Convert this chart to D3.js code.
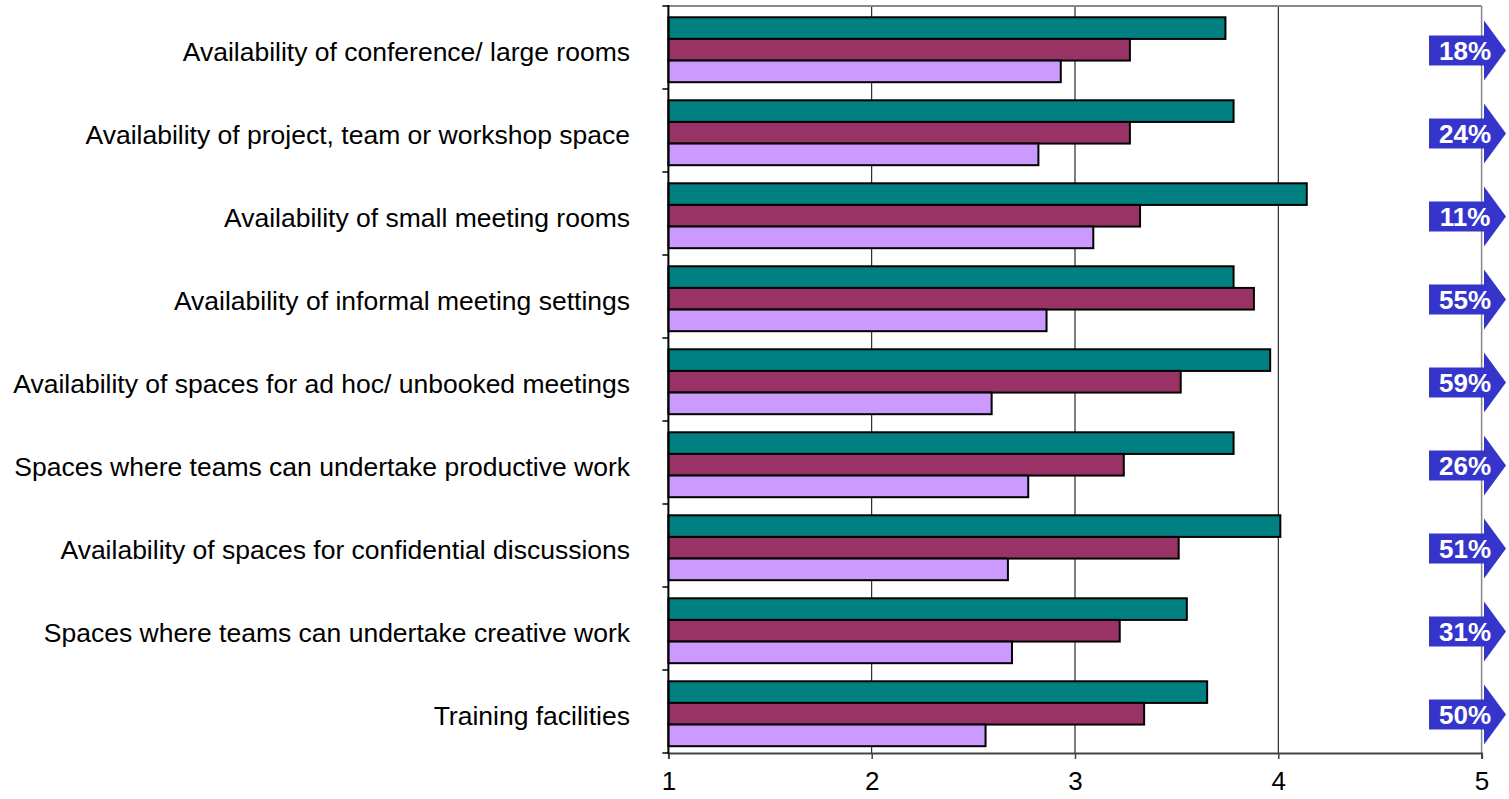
<!DOCTYPE html>
<html>
<head>
<meta charset="utf-8">
<script src="https://cdn.jsdelivr.net/npm/d3@7/dist/d3.min.js"></script>
<style>
  html, body { margin: 0; padding: 0; background: #fff; }
  svg { display: block; }
  text { font-family: Arial, "Liberation Sans", sans-serif; }
</style>
</head>
<body>
<svg id="chart" width="1509" height="799"></svg>
<script>
// Workplace meeting-space ratings (1-5 scale), three groups per item
const categories = [
  "Availability of conference/ large rooms",
  "Availability of project, team or workshop space",
  "Availability of small meeting rooms",
  "Availability of informal meeting settings",
  "Availability of spaces for ad hoc/ unbooked meetings",
  "Spaces where teams can undertake productive work",
  "Availability of spaces for confidential discussions",
  "Spaces where teams can undertake creative work",
  "Training facilities"
];
const ratingsFirst  = [3.74, 3.78, 4.14, 3.78, 3.96, 3.78, 4.01, 3.55, 3.65];
const ratingsSecond = [3.27, 3.27, 3.32, 3.88, 3.52, 3.24, 3.51, 3.22, 3.34];
const ratingsThird  = [2.93, 2.82, 3.09, 2.86, 2.59, 2.77, 2.67, 2.69, 2.56];
const shareLabels   = ["18%", "24%", "11%", "55%", "59%", "26%", "51%", "31%", "50%"];
const xTicks = [1, 2, 3, 4, 5];

const seriesKeys = ["first", "second", "third"];
const seriesColors = { first: "#008080", second: "#993366", third: "#CC99FF" };

const rows = categories.map((c, i) => ({
  name: c,
  first: ratingsFirst[i],
  second: ratingsSecond[i],
  third: ratingsThird[i],
  share: shareLabels[i]
}));

const svg = d3.select("#chart");
const plot = { left: 668.4, right: 1481.6, top: 6, bottom: 753 };

const x = d3.scaleLinear().domain([1, 5]).range([plot.left, plot.right]);
const y = d3.scaleBand().domain(categories).range([plot.top, plot.bottom]).padding(0);
const bw = y.bandwidth();
const inner = d3.scaleBand().domain(seriesKeys).range([bw * 0.136, bw * 0.918]).padding(0);

// vertical gridlines
svg.append("g")
  .selectAll("line")
  .data(xTicks.slice(1, -1))
  .join("line")
  .attr("x1", d => x(d)).attr("x2", d => x(d))
  .attr("y1", plot.top).attr("y2", plot.bottom)
  .attr("stroke", "#000").attr("stroke-width", 1);

// plot frame (top and right)
svg.append("line")
  .attr("x1", plot.left).attr("x2", plot.right)
  .attr("y1", plot.top).attr("y2", plot.top)
  .attr("stroke", "#888").attr("stroke-width", 2);
svg.append("line")
  .attr("x1", plot.right).attr("x2", plot.right)
  .attr("y1", plot.top).attr("y2", plot.bottom)
  .attr("stroke", "#888").attr("stroke-width", 1.5);

// bars
const groups = svg.append("g")
  .selectAll("g")
  .data(rows)
  .join("g")
  .attr("transform", d => `translate(0,${y(d.name)})`);

groups.selectAll("rect")
  .data(d => seriesKeys.map(k => ({ key: k, value: d[k] })))
  .join("rect")
  .attr("x", x(1))
  .attr("y", d => inner(d.key))
  .attr("width", d => x(d.value) - x(1))
  .attr("height", inner.bandwidth())
  .attr("fill", d => seriesColors[d.key])
  .attr("stroke", "#000")
  .attr("stroke-width", 2);

// bottom axis
const xAxis = svg.append("g")
  .attr("transform", `translate(0,${plot.bottom})`)
  .call(d3.axisBottom(x).tickValues(xTicks).tickFormat(d3.format("d")).tickSize(6).tickPadding(13));
xAxis.select(".domain").attr("stroke", "#444").attr("stroke-width", 2);
xAxis.selectAll(".tick line").attr("stroke", "#444").attr("stroke-width", 1.5);
xAxis.selectAll(".tick text")
  .attr("font-size", 26)
  .attr("font-family", "Arial, 'Liberation Sans', sans-serif")
  .attr("fill", "#000");

// left axis: boundary ticks between categories
const boundaries = d3.range(categories.length + 1).map(i => plot.top + i * bw);
svg.append("g")
  .selectAll("line")
  .data(boundaries)
  .join("line")
  .attr("x1", plot.left - 6).attr("x2", plot.left)
  .attr("y1", d => d).attr("y2", d => d)
  .attr("stroke", "#000").attr("stroke-width", 1.5);
svg.append("line")
  .attr("x1", plot.left).attr("x2", plot.left)
  .attr("y1", plot.top - 1).attr("y2", plot.bottom + 1)
  .attr("stroke", "#000").attr("stroke-width", 2);

// category labels
svg.append("g")
  .selectAll("text")
  .data(rows)
  .join("text")
  .attr("x", 630)
  .attr("y", d => y(d.name) + bw / 2 + 13)
  .attr("text-anchor", "end")
  .attr("font-size", 26.5)
  .attr("fill", "#000")
  .text(d => d.name);

// share arrows at the right edge
const arrow = d3.line();
const arrows = svg.append("g")
  .selectAll("g")
  .data(rows)
  .join("g")
  .attr("transform", (d, i) => `translate(0,${y(d.name) + bw / 2 + 3})`);

arrows.append("path")
  .attr("d", arrow([
    [1429, -15], [1484, -15], [1484, -30], [1506, 0],
    [1484, 30], [1484, 15], [1429, 15]
  ]) + "Z")
  .attr("fill", "#3535CC");

arrows.append("text")
  .attr("x", 1465)
  .attr("y", 9.5)
  .attr("text-anchor", "middle")
  .attr("font-size", 26)
  .attr("font-weight", "bold")
  .attr("fill", "#fff")
  .text(d => d.share);
</script>
</body>
</html>
